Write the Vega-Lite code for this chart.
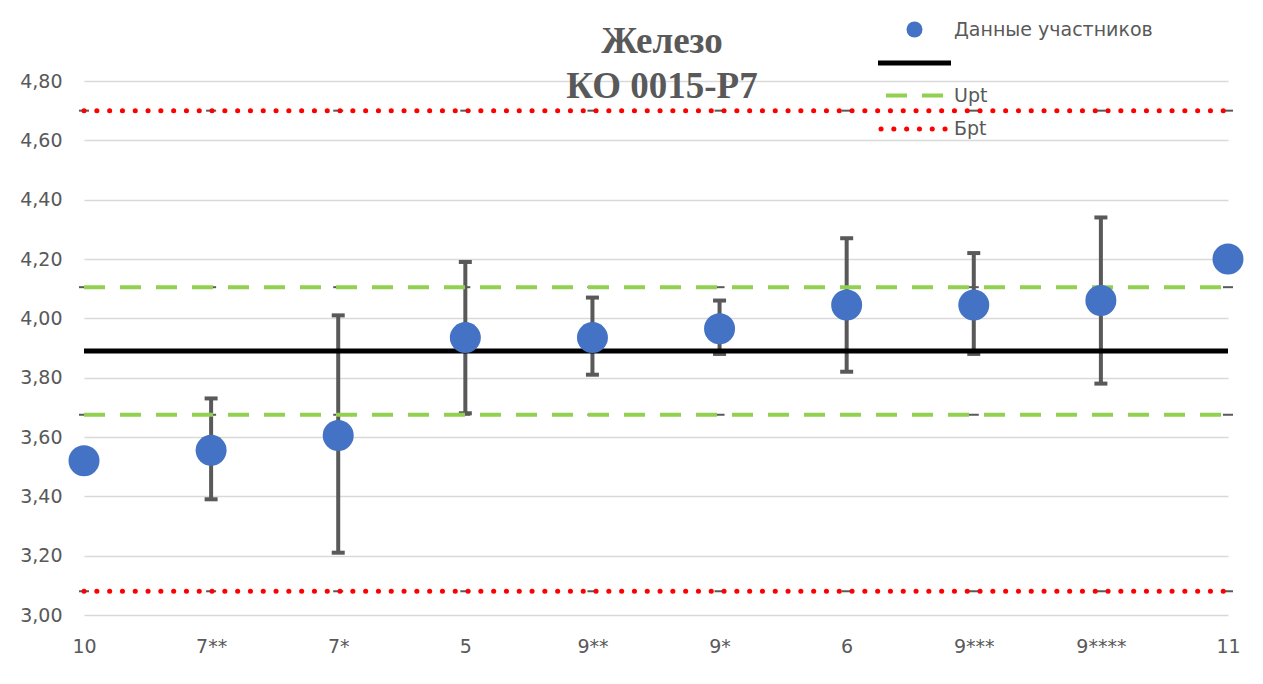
{
  "$schema": "https://vega.github.io/schema/vega-lite/v6.json",
  "width": 1144,
  "height": 534,
  "autosize": {"type": "none"},
  "padding": {"left": 84, "top": 81, "right": 35, "bottom": 69},
  "background": "white",
  "title": {
    "text": ["Железо", "КО 0015-Р7"],
    "font": "Liberation Serif",
    "fontSize": 37,
    "fontWeight": "bold",
    "color": "#595959",
    "lineHeight": 45,
    "anchor": "middle",
    "frame": "group",
    "offset": -86,
    "dx": 6
  },
  "datasets": {
    "participants": [
      {"cat": "10", "value": 3.52},
      {"cat": "7**", "value": 3.555, "lo": 3.39, "hi": 3.73},
      {"cat": "7*", "value": 3.605, "lo": 3.21, "hi": 4.01},
      {"cat": "5", "value": 3.935, "lo": 3.68, "hi": 4.19},
      {"cat": "9**", "value": 3.935, "lo": 3.81, "hi": 4.07},
      {"cat": "9*", "value": 3.965, "lo": 3.88, "hi": 4.06},
      {"cat": "6", "value": 4.045, "lo": 3.82, "hi": 4.27},
      {"cat": "9***", "value": 4.045, "lo": 3.88, "hi": 4.22},
      {"cat": "9****", "value": 4.06, "lo": 3.78, "hi": 4.34},
      {"cat": "11", "value": 4.2}
    ],
    "refs": [
      {"cat": "10", "series": "Xpt", "line": "Xpt", "value": 3.89},
      {"cat": "10", "series": "Upt", "line": "Upt+", "value": 4.105},
      {"cat": "10", "series": "Upt", "line": "Upt-", "value": 3.675},
      {"cat": "10", "series": "Бpt", "line": "Бpt+", "value": 4.7},
      {"cat": "10", "series": "Бpt", "line": "Бpt-", "value": 3.08},
      {"cat": "7**", "series": "Xpt", "line": "Xpt", "value": 3.89},
      {"cat": "7**", "series": "Upt", "line": "Upt+", "value": 4.105},
      {"cat": "7**", "series": "Upt", "line": "Upt-", "value": 3.675},
      {"cat": "7**", "series": "Бpt", "line": "Бpt+", "value": 4.7},
      {"cat": "7**", "series": "Бpt", "line": "Бpt-", "value": 3.08},
      {"cat": "7*", "series": "Xpt", "line": "Xpt", "value": 3.89},
      {"cat": "7*", "series": "Upt", "line": "Upt+", "value": 4.105},
      {"cat": "7*", "series": "Upt", "line": "Upt-", "value": 3.675},
      {"cat": "7*", "series": "Бpt", "line": "Бpt+", "value": 4.7},
      {"cat": "7*", "series": "Бpt", "line": "Бpt-", "value": 3.08},
      {"cat": "5", "series": "Xpt", "line": "Xpt", "value": 3.89},
      {"cat": "5", "series": "Upt", "line": "Upt+", "value": 4.105},
      {"cat": "5", "series": "Upt", "line": "Upt-", "value": 3.675},
      {"cat": "5", "series": "Бpt", "line": "Бpt+", "value": 4.7},
      {"cat": "5", "series": "Бpt", "line": "Бpt-", "value": 3.08},
      {"cat": "9**", "series": "Xpt", "line": "Xpt", "value": 3.89},
      {"cat": "9**", "series": "Upt", "line": "Upt+", "value": 4.105},
      {"cat": "9**", "series": "Upt", "line": "Upt-", "value": 3.675},
      {"cat": "9**", "series": "Бpt", "line": "Бpt+", "value": 4.7},
      {"cat": "9**", "series": "Бpt", "line": "Бpt-", "value": 3.08},
      {"cat": "9*", "series": "Xpt", "line": "Xpt", "value": 3.89},
      {"cat": "9*", "series": "Upt", "line": "Upt+", "value": 4.105},
      {"cat": "9*", "series": "Upt", "line": "Upt-", "value": 3.675},
      {"cat": "9*", "series": "Бpt", "line": "Бpt+", "value": 4.7},
      {"cat": "9*", "series": "Бpt", "line": "Бpt-", "value": 3.08},
      {"cat": "6", "series": "Xpt", "line": "Xpt", "value": 3.89},
      {"cat": "6", "series": "Upt", "line": "Upt+", "value": 4.105},
      {"cat": "6", "series": "Upt", "line": "Upt-", "value": 3.675},
      {"cat": "6", "series": "Бpt", "line": "Бpt+", "value": 4.7},
      {"cat": "6", "series": "Бpt", "line": "Бpt-", "value": 3.08},
      {"cat": "9***", "series": "Xpt", "line": "Xpt", "value": 3.89},
      {"cat": "9***", "series": "Upt", "line": "Upt+", "value": 4.105},
      {"cat": "9***", "series": "Upt", "line": "Upt-", "value": 3.675},
      {"cat": "9***", "series": "Бpt", "line": "Бpt+", "value": 4.7},
      {"cat": "9***", "series": "Бpt", "line": "Бpt-", "value": 3.08},
      {"cat": "9****", "series": "Xpt", "line": "Xpt", "value": 3.89},
      {"cat": "9****", "series": "Upt", "line": "Upt+", "value": 4.105},
      {"cat": "9****", "series": "Upt", "line": "Upt-", "value": 3.675},
      {"cat": "9****", "series": "Бpt", "line": "Бpt+", "value": 4.7},
      {"cat": "9****", "series": "Бpt", "line": "Бpt-", "value": 3.08},
      {"cat": "11", "series": "Xpt", "line": "Xpt", "value": 3.89},
      {"cat": "11", "series": "Upt", "line": "Upt+", "value": 4.105},
      {"cat": "11", "series": "Upt", "line": "Upt-", "value": 3.675},
      {"cat": "11", "series": "Бpt", "line": "Бpt+", "value": 4.7},
      {"cat": "11", "series": "Бpt", "line": "Бpt-", "value": 3.08}
    ]
  },
  "layer": [
    {
      "data": {"name": "refs"},
      "transform": [{"filter": "datum.series !== 'Xpt'"}],
      "mark": {"type": "tick", "size": 10, "thickness": 2, "color": "#595959", "opacity": 1},
      "encoding": {
        "x": {
          "field": "cat", "type": "nominal",
          "scale": {"type": "point", "padding": 0, "domain": ["10", "7**", "7*", "5", "9**", "9*", "6", "9***", "9****", "11"]},
          "axis": {
            "title": null, "orient": "bottom", "labelAngle": 0, "ticks": false, "tickSize": 0, "domain": false,
            "grid": false, "labelPadding": 22, "labelFont": "DejaVu Sans", "labelFontSize": 19, "labelColor": "#595959"
          }
        },
        "y": {
          "field": "value", "type": "quantitative",
          "scale": {"domain": [3, 4.8], "zero": false, "nice": false},
          "axis": {
            "title": null, "values": [3, 3.2, 3.4, 3.6, 3.8, 4, 4.2, 4.4, 4.6, 4.8],
            "labelExpr": "replace(format(datum.value, '.2f'), '.', ',')",
            "ticks": false, "tickSize": 0, "domain": false, "grid": true, "gridColor": "#D9D9D9", "gridWidth": 1.3,
            "labelPadding": 22, "labelFont": "DejaVu Sans", "labelFontSize": 19, "labelColor": "#595959"
          }
        }
      }
    },
    {
      "data": {"name": "participants"},
      "transform": [{"filter": "isValid(datum.lo)"}],
      "mark": {"type": "rule", "color": "#595959", "strokeWidth": 4},
      "encoding": {
        "x": {"field": "cat", "type": "nominal"},
        "y": {"field": "lo", "type": "quantitative"},
        "y2": {"field": "hi"}
      }
    },
    {
      "data": {"name": "participants"},
      "transform": [{"filter": "isValid(datum.lo)"}],
      "mark": {"type": "tick", "size": 13, "thickness": 4, "color": "#595959", "opacity": 1},
      "encoding": {
        "x": {"field": "cat", "type": "nominal"},
        "y": {"field": "lo", "type": "quantitative"}
      }
    },
    {
      "data": {"name": "participants"},
      "transform": [{"filter": "isValid(datum.hi)"}],
      "mark": {"type": "tick", "size": 13, "thickness": 4, "color": "#595959", "opacity": 1},
      "encoding": {
        "x": {"field": "cat", "type": "nominal"},
        "y": {"field": "hi", "type": "quantitative"}
      }
    },
    {
      "data": {"name": "refs"},
      "transform": [{"filter": "datum.series === 'Upt'"}],
      "mark": {"type": "line", "strokeWidth": 4, "strokeDash": [21, 15]},
      "encoding": {
        "x": {"field": "cat", "type": "nominal"},
        "y": {"field": "value", "type": "quantitative"},
        "detail": {"field": "line"},
        "color": {
          "field": "series",
          "type": "nominal",
          "scale": {
            "domain": ["Данные участников", "Xpt", "Upt", "Бpt"],
            "range": ["#4472C4", "#000000", "#92D050", "#FF0000"]
          },
          "legend": {
            "orient": "none",
            "legendX": 821,
            "legendY": -61,
            "title": null,
            "direction": "vertical",
            "padding": 0,
            "labelFont": "DejaVu Sans",
            "labelFontSize": 19,
            "labelColor": "#595959",
            "labelLimit": 400,
            "labelOffset": 30,
            "rowPadding": 12.5,
            "symbolSize": 256,
            "symbolType": "circle",
            "labelExpr": "datum.value === 'Xpt' ? ' ' : datum.label",
            "encode": {
              "symbols": {
                "update": {
                  "shape": {"signal": "datum.value === 'Данные участников' ? 'circle' : 'stroke'"},
                  "size": {"signal": "datum.value === 'Данные участников' ? 256 : datum.value === 'Xpt' ? 5329 : datum.value === 'Upt' ? 3249 : 4489"},
                  "fill": {"signal": "datum.value === 'Данные участников' ? '#4472C4' : 'transparent'"},
                  "stroke": {"signal": "datum.value === 'Данные участников' ? 'transparent' : datum.value === 'Xpt' ? '#000000' : datum.value === 'Upt' ? '#92D050' : '#FF0000'"},
                  "strokeWidth": {"signal": "datum.value === 'Данные участников' ? 0 : datum.value === 'Upt' ? 4 : 5"},
                  "strokeDash": {"signal": "datum.value === 'Upt' ? [21, 15] : datum.value === 'Бpt' ? [0.1, 12.7] : [1, 0]"},
                  "strokeCap": {"signal": "datum.value === 'Бpt' ? 'round' : 'butt'"},
                  "opacity": {"value": 1}
                }
              }
            }
          }
        }
      }
    },
    {
      "data": {"name": "refs"},
      "transform": [{"filter": "datum.series === 'Бpt'"}],
      "mark": {"type": "line", "strokeWidth": 5, "strokeDash": [0.1, 12.7], "strokeCap": "round"},
      "encoding": {
        "x": {"field": "cat", "type": "nominal"},
        "y": {"field": "value", "type": "quantitative"},
        "detail": {"field": "line"},
        "color": {"field": "series", "type": "nominal", "legend": {"title": null}}
      }
    },
    {
      "data": {"name": "refs"},
      "transform": [{"filter": "datum.series === 'Xpt'"}],
      "mark": {"type": "line", "strokeWidth": 5},
      "encoding": {
        "x": {"field": "cat", "type": "nominal"},
        "y": {"field": "value", "type": "quantitative"},
        "detail": {"field": "line"},
        "color": {"field": "series", "type": "nominal", "legend": {"title": null}}
      }
    },
    {
      "data": {"name": "participants"},
      "mark": {"type": "circle", "size": 961, "opacity": 1},
      "encoding": {
        "x": {"field": "cat", "type": "nominal"},
        "y": {"field": "value", "type": "quantitative"},
        "color": {"datum": "Данные участников", "type": "nominal", "legend": {"title": null}}
      }
    }
  ],
  "config": {
    "view": {"stroke": null}
  }
}
